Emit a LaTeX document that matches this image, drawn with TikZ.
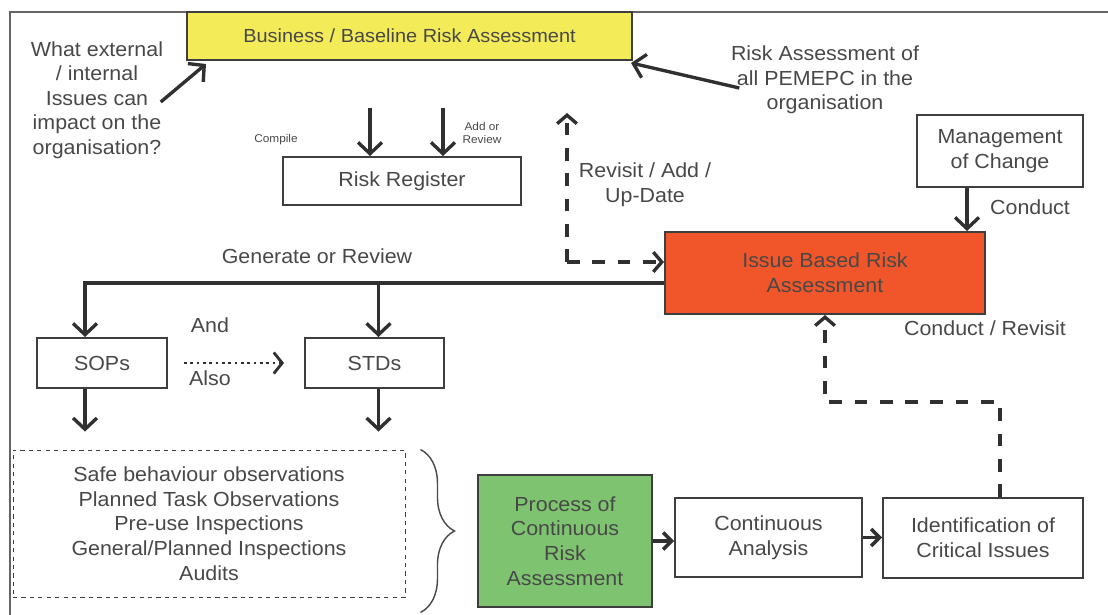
\documentclass[tikz,border=0pt]{standalone}
\usepackage{fontspec}
\setmainfont{Liberation Sans}[FakeStretch=1.05]
\usepackage{tikz}
\usetikzlibrary{arrows.meta, calc, positioning, decorations.pathreplacing}
\usepackage{xcolor}
\definecolor{bizyellow}{RGB}{243,236,88}
\definecolor{ibaorange}{RGB}{240,86,42}
\definecolor{pcragreen}{RGB}{126,196,112}
\definecolor{txt}{RGB}{72,72,72}
\definecolor{boxline}{RGB}{62,62,62}
\definecolor{arrowline}{RGB}{48,48,48}

\begin{document}
\begin{tikzpicture}[x=0.025cm, y=-0.025cm,
  font=\fontsize{14.5}{17.5}\selectfont, text=txt,
  box/.style={draw=boxline, line width=1.4pt, fill=white, align=center, inner sep=2pt},
  lbl/.style={align=center, inner sep=1pt},
  small/.style={align=center, inner sep=1pt, font=\fontsize{8}{9}\selectfont},
  flow/.style={draw=arrowline, line width=2.4pt, -{Straight Barb[length=8pt,width=17pt]}},
  shortflow/.style={flow, -{Straight Barb[length=6pt,width=12pt]}},
  dashflow/.style={draw=arrowline, line width=2.4pt, dash pattern=on 9pt off 9pt, -{Straight Barb[length=6pt,width=14pt]}},
  dotflow/.style={draw=arrowline, line width=2pt, dash pattern=on 2pt off 2.5pt, -{Straight Barb[length=6pt,width=15pt]}},
  bracket/.style={draw=txt, line width=1pt, decorate, decoration={brace, amplitude=0.85cm}}]
  \useasboundingbox (0,0) rectangle (1108,615);
  % outer frame
  \draw[draw=boxline!80, line width=2pt] (1108,12) -- (10,12) -- (10,615);
  % boxes
  \node[box, fill=bizyellow, minimum width=11.125cm, minimum height=1.2cm, font=\fontsize{13.5}{16}\selectfont] (biz) at (409.5,36) {Business / Baseline Risk Assessment};
  \node[box, minimum width=5.95cm, minimum height=1.2cm] (reg) at (402,181) {Risk Register};
  \node[box, minimum width=4.15cm, minimum height=1.8cm] (moc) at (1000,151) {Management\\of Change};
  \node[box, fill=ibaorange, minimum width=8cm, minimum height=2.05cm] (iba) at (825,273) {Issue Based Risk\\Assessment};
  \node[box, minimum width=3.25cm, minimum height=1.25cm] (sop) at (102,363) {SOPs};
  \node[box, minimum width=3.475cm, minimum height=1.25cm] (std) at (374.5,363) {STDs};
  \node[box, line width=0.6pt, dashed, minimum width=9.8cm, minimum height=3.675cm] (obs) at (209,523.5)
    {Safe behaviour observations\\Planned Task Observations\\Pre-use Inspections\\General/Planned Inspections\\Audits};
  \node[box, fill=pcragreen, minimum width=4.35cm, minimum height=3.3cm] (pcra) at (565,541) {Process of\\Continuous\\Risk\\Assessment};
  \node[box, minimum width=4.675cm, minimum height=1.975cm] (can) at (768.5,537.5) {Continuous\\Analysis};
  \node[box, minimum width=5cm, minimum height=2cm] (ici) at (983,538) {Identification of\\Critical Issues};
  % free texts
  \node[lbl] (q1) at (97,100) {What external\\/ internal\\Issues can\\impact on the\\organisation?};
  \node[lbl] (q2) at (825,80) {Risk Assessment of\\all PEMEPC in the\\organisation};
  \node[small] (cmpl) at (276,140) {Compile};
  \node[small] (addr) at (482,133) {Add or\\Review};
  \node[lbl] (rvl) at (645,185) {Revisit / Add /\\Up-Date};
  \node[lbl] (cdl) at (1030,207) {Conduct};
  \node[lbl] (gnl) at (317,256) {Generate or Review};
  \node[lbl] (andl) at (210,325) {And};
  \node[lbl] (also) at (210,378) {Also};
  \node[lbl] (crl) at (985,328) {Conduct / Revisit};
  % into the baseline assessment
  \draw[flow] ($(q1.east)+(-4,2)$) -- ($(biz.south west)+(20,3)$);
  \draw[flow] ($(q2.west)+(10,8)$) -- ($(biz.south east)+(-2,2)$);
  % compile / review the register
  \coordinate (cmp) at (370,108);
  \coordinate (rev) at (443,108);
  \draw[flow] (cmp) -- (cmp |- reg.north);
  \draw[flow] (rev) -- (rev |- reg.north);
  % revisit loop
  \coordinate (rvc) at (567,262);
  \coordinate (rvt) at (567,113);
  \draw[dashflow] (rvc) -- (rvt);
  \draw[dashflow] (rvc) -- (rvc -| iba.west);
  % change management
  \coordinate (m1) at ($(moc.south)+(-33,0)$);
  \draw[flow] (m1) -- (m1 |- iba.north);
  % generate or review
  \coordinate (gl) at (85,283);
  \draw[flow] (iba.west |- gl) -| (gl |- sop.north);
  \draw[flow] ($(std.north |- gl)+(4,0)$) -- ($(std.north)+(4,0)$);
  \draw[dotflow] ($(sop.east)+(16,0)$) -- ($(std.west)+(-20,0)$);
  \draw[flow] (gl |- sop.south) -- ($(gl |- obs.north)+(0,-18)$);
  \draw[flow] ($(std.south)+(4,0)$) -- ($(std.south |- obs.north)+(4,-18)$);
  \draw[bracket] ($(obs.north east)+(15,0)$) -- ($(obs.south east)+(15,15)$);
  % continuous loop
  \draw[shortflow] (pcra.east) -- (pcra.east -| can.west);
  \draw[shortflow] (can.east) -- (can.east -| ici.west);
  \coordinate (ic) at (1000,402);
  \draw[dashflow] (ic |- ici.north) -- (ic) -| (iba.south);
\end{tikzpicture}
\end{document}
